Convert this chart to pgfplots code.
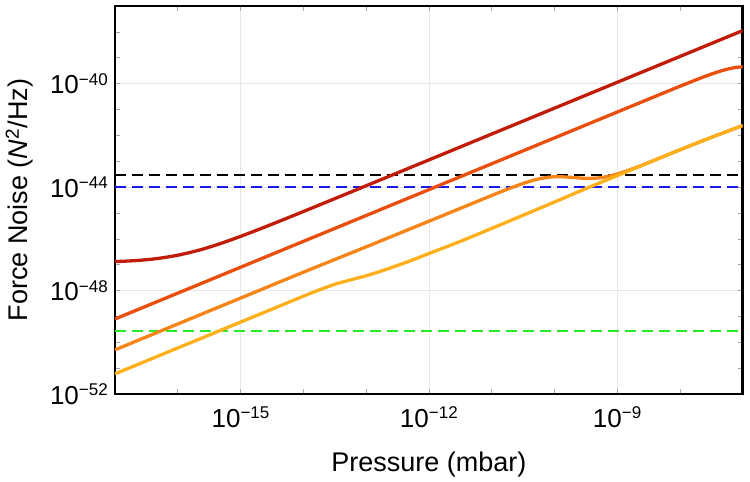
\documentclass[border=0pt]{standalone}
\usepackage{pgfplots}
\pgfplotsset{compat=1.18}
\usepackage{fontspec}
\setmainfont{Liberation Sans}

\definecolor{cDark}{RGB}{192,28,8}
\definecolor{cRedOr}{RGB}{234,78,12}
\definecolor{cOrange}{RGB}{246,132,22}
\definecolor{cYellow}{RGB}{253,176,28}
\definecolor{cBlue}{RGB}{25,25,235}
\definecolor{cGreen}{RGB}{40,235,40}

% power-of-ten tick label: 10^{-#1} set in the text font
\newcommand{\tenpow}[1]{10\raisebox{8.4pt}{\fontsize{17}{17}\selectfont\textminus#1}}

\begin{document}
\begin{tikzpicture}
\begin{axis}[
  name=ax,
  xmode=log, ymode=log,
  scale only axis,
  width=627.7pt, height=388pt,
  xmin=1e-17, xmax=1e-7,
  ymin=1e-52, ymax=1e-37,
  xtick={1e-15,1e-12,1e-9},
  xticklabels={\tenpow{15},\tenpow{12},\tenpow{9}},
  minor xtick={1e-16,1e-14,1e-13,1e-11,1e-10,1e-8},
  ytick={1e-52,1e-48,1e-44,1e-40},
  yticklabels={\tenpow{52},\tenpow{48},\tenpow{44},\tenpow{40}},
  minor ytick={1e-51,1e-50,1e-49,1e-47,1e-46,1e-45,1e-43,1e-42,1e-41,1e-39,1e-38},
  grid=major,
  major grid style={black!9, line width=0.6pt},
  axis line style={line width=2.8pt, black},
  tick style={black!35, line width=0.6pt},
  major tick length=5pt, minor tick length=5pt,
  tick align=inside,
  xticklabel style={font=\fontsize{26}{26}\selectfont, anchor=north, inner sep=0pt, yshift=-12.7pt},
  yticklabel style={font=\fontsize{26}{26}\selectfont, anchor=east, inner sep=0pt, xshift=-7pt},
  xlabel={Pressure (mbar)},
  ylabel={Force Noise (\textit{N}\textsuperscript{2}/Hz)},
  label style={font=\fontsize{27}{32}\selectfont},
  xlabel style={at={(axis description cs:0.5,-0.1985)}, anchor=base},
  ylabel style={at={(axis description cs:-0.1386,0.5)}, anchor=base, rotate=0},
  every axis plot/.append style={line join=round},
]

% reference levels
\addplot[black, line width=2.4pt, dash pattern=on 11pt off 6pt]
  coordinates {(1e-17,3e-44) (1e-7,3e-44)};
\addplot[cBlue, line width=2.4pt, dash pattern=on 11pt off 6pt]
  coordinates {(1e-17,1e-44) (1e-7,1e-44)};
\addplot[cGreen, line width=2.4pt, dash pattern=on 11pt off 6pt]
  coordinates {(1e-17,2.8e-50) (1e-7,2.8e-50)};

% dark red: thermal floor plus gas damping
\addplot[cDark, line width=3.3pt, smooth] coordinates {
  (1e-17,1.312e-47) (2e-17,1.424e-47) (3.162e-17,1.554e-47) (5e-17,1.76e-47)
  (1e-16,2.32e-47) (2e-16,3.44e-47) (3.162e-16,4.74e-47) (5e-16,6.8e-47)
  (1e-15,1.24e-46) (2e-15,2.36e-46) (3.162e-15,3.66e-46) (5e-15,5.72e-46)
  (1e-14,1.132e-45) (1e-13,1.121e-44) (1e-12,1.12e-43) (1e-11,1.12e-42)
  (1e-10,1.12e-41) (1e-9,1.12e-40) (1e-8,1.12e-39) (1e-7,1.12e-38)
};

% orange-red
\addplot[cRedOr, line width=3.3pt, smooth] coordinates {
  (1e-17,7.94e-50) (1e-16,7.94e-49) (1e-15,7.94e-48) (1e-14,7.94e-47)
  (1e-13,7.94e-46) (1e-12,7.94e-45) (1e-11,7.94e-44) (1e-10,7.94e-43)
  (1e-9,7.94e-42) (3.162e-9,2.509e-41) (1e-8,7.88e-41) (2e-8,1.540e-40)
  (3e-8,2.226e-40) (4e-8,2.824e-40) (5e-8,3.324e-40) (6e-8,3.722e-40)
  (7e-8,4.025e-40) (8e-8,4.241e-40) (9e-8,4.384e-40) (1e-7,4.466e-40)
};

% orange
\addplot[cOrange, line width=3.3pt, smooth] coordinates {
  (1e-17,5.10e-51) (1e-16,5.10e-50) (1e-15,5.10e-49) (1e-14,5.10e-48)
  (1e-13,4.87e-47) (1e-12,4.77e-46) (3.162e-12,1.501e-45) (1e-11,4.706e-45)
  (1.778e-11,8.21e-45) (3.162e-11,1.375e-44) (5.623e-11,2.068e-44)
  (1e-10,2.513e-44) (1.778e-10,2.401e-44) (3.162e-10,2.165e-44)
  (5.623e-10,2.325e-44) (1e-9,3.20e-44) (1.778e-9,5.15e-44)
  (3.162e-9,8.85e-44) (1e-8,2.759e-43) (3.162e-8,8.32e-43) (1e-7,2.399e-42)
};

% yellow
\addplot[cYellow, line width=3.3pt, smooth] coordinates {
  (1e-17,6.03e-52) (3.162e-17,1.90e-51) (1e-16,6.03e-51) (3.162e-16,1.90e-50)
  (1e-15,6.03e-50) (3.162e-15,1.90e-49) (1e-14,6.03e-49) (1.778e-14,1.047e-48)
  (3.162e-14,1.738e-48) (5.623e-14,2.570e-48) (1e-13,3.715e-48)
  (1.778e-13,5.754e-48) (3.162e-13,9.333e-48) (5.623e-13,1.549e-47)
  (1e-12,2.692e-47) (3.162e-12,7.943e-47) (1e-11,2.512e-46)
  (3.162e-11,8.128e-46) (1e-10,2.630e-45) (3.162e-10,8.710e-45)
  (1e-9,2.754e-44) (3.162e-9,8.710e-44) (1e-8,2.754e-43)
  (3.162e-8,8.318e-43) (1e-7,2.399e-42)
};

\end{axis}
\pgfresetboundingbox
\path ([xshift=-115pt,yshift=-88pt]ax.south west) rectangle ([xshift=7.3pt,yshift=6pt]ax.north east);
\end{tikzpicture}
\end{document}
